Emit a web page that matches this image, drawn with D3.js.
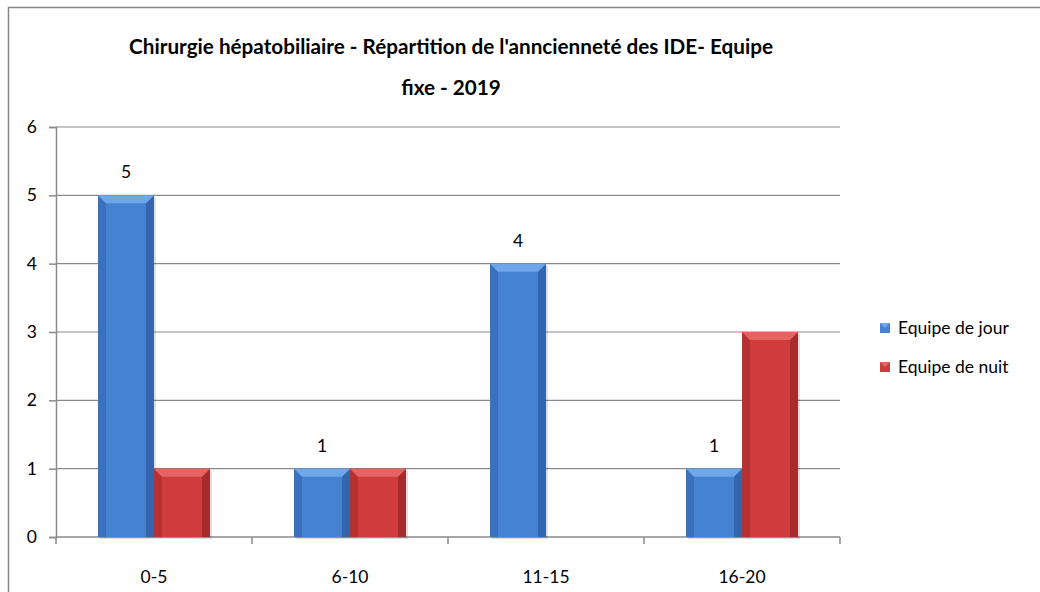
<!DOCTYPE html>
<html><head><meta charset="utf-8">
<script src="https://cdn.jsdelivr.net/npm/d3@7"></script>
<style>body{margin:0;background:#fff}svg{display:block}</style>
</head><body>
<svg id="c" width="1040" height="592"></svg>
<script>
const categories = ["0-5", "6-10", "11-15", "16-20"];
const jour = [5, 1, 4, 1];
const nuit = [1, 1, 0, 3];
const seriesNames = ["Equipe de jour", "Equipe de nuit"];
const yTicks = [0, 1, 2, 3, 4, 5, 6];
const titleLines = ["Chirurgie hépatobiliaire - Répartition de l'anncienneté des IDE- Equipe", "fixe - 2019"];

const FONT = "Lato, 'Open Sans', sans-serif";
const FS = 17.5;
const svg = d3.select("#c");
svg.append("rect").attr("x", 8.5).attr("y", 7.5).attr("width", 1100).attr("height", 700)
  .attr("fill", "#fff").attr("stroke", "#868686").attr("stroke-width", 1.5);

const L = 56, R = 840, T = 127, B = 537;
const x = d3.scaleBand().domain(categories).range([L, R]).paddingInner(0.4286).paddingOuter(0.2143);
const xb = d3.scaleBand().domain(categories).range([L, R]).padding(0);
const xs = d3.scaleBand().domain(seriesNames).range([0, x.bandwidth()]);
const y = d3.scaleLinear().domain([0, 6]).range([B, T]);

// gridlines
svg.append("g").selectAll("line").data(yTicks.filter(d => d > 0)).join("line")
  .attr("x1", L).attr("x2", R).attr("y1", d => y(d)).attr("y2", d => y(d))
  .attr("stroke", "#8a8a8a").attr("stroke-width", 1.2);

// y axis
const ya = svg.append("g").attr("transform", `translate(${L},0)`)
  .call(d3.axisLeft(y).tickValues(yTicks).tickSize(7).tickPadding(12).tickFormat(d3.format("d")));
ya.select(".domain").attr("stroke", "#8a8a8a").attr("stroke-width", 1.5);
ya.selectAll(".tick line").attr("stroke", "#8a8a8a").attr("stroke-width", 1.5);
ya.selectAll("text").attr("font-family", FONT).attr("font-size", FS).attr("fill", "#000");

// x axis
const xa = svg.append("g").attr("transform", `translate(0,${B})`);
xa.append("line").attr("x1", L).attr("x2", R).attr("stroke", "#8a8a8a").attr("stroke-width", 1.5);
xa.selectAll(".tk").data(categories.map(c => xb(c)).concat([R])).join("line").attr("class", "tk")
  .attr("x1", d => d).attr("x2", d => d).attr("y1", 0).attr("y2", 7).attr("stroke", "#8a8a8a").attr("stroke-width", 1.5);
xa.selectAll("text").data(categories).join("text")
  .attr("x", d => xb(d) + xb.bandwidth() / 2).attr("y", 46).attr("text-anchor", "middle")
  .attr("font-family", FONT).attr("font-size", FS).attr("fill", "#000").text(d => d);

const pal = {
  "Equipe de jour": {face: "#4682d2", top: "#6ea6ea", side: "#3466ad"},
  "Equipe de nuit": {face: "#d03c3c", top: "#e46464", side: "#a52c2c"}
};

function bar(g, x0, y0, w, h, c) {
  if (h <= 0) return;
  const bv = Math.min(8, h / 2);
  g.append("rect").attr("x", x0 + 2).attr("y", y0 + 2).attr("width", w).attr("height", h).attr("fill", "rgba(0,0,0,0.12)");
  g.append("rect").attr("x", x0).attr("y", y0).attr("width", w).attr("height", h).attr("fill", c.face);
  g.append("polygon").attr("points", `${x0},${y0} ${x0 + bv},${y0 + bv} ${x0 + bv},${y0 + h} ${x0},${y0 + h}`).attr("fill", c.side).attr("opacity", 0.6);
  g.append("polygon").attr("points", `${x0 + w},${y0} ${x0 + w - bv},${y0 + bv} ${x0 + w - bv},${y0 + h} ${x0 + w},${y0 + h}`).attr("fill", c.side);
  g.append("polygon").attr("points", `${x0},${y0} ${x0 + w},${y0} ${x0 + w - bv},${y0 + bv} ${x0 + bv},${y0 + bv}`).attr("fill", c.top);
}

const bars = svg.append("g");
const data = [jour, nuit];
categories.forEach((cat, i) => {
  seriesNames.forEach((s, j) => {
    const v = data[j][i];
    bar(bars, x(cat) + xs(s), y(v), xs.bandwidth(), y(0) - y(v), pal[s]);
  });
});

// data labels (jour only)
svg.append("g").selectAll("text").data(jour).join("text")
  .attr("x", (d, i) => x(categories[i]) + xs(seriesNames[0]) + xs.bandwidth() / 2)
  .attr("y", d => y(d) - 17).attr("text-anchor", "middle")
  .attr("font-family", FONT).attr("font-size", FS).attr("fill", "#000").text(d => d);

// title
svg.append("g").selectAll("text").data(titleLines).join("text")
  .attr("x", 451).attr("y", (d, i) => 54 + i * 41).attr("text-anchor", "middle")
  .attr("font-family", FONT).attr("font-weight", "bold").attr("font-size", 20.7).attr("fill", "#000").text(d => d);

// legend
const lg = svg.append("g");
seriesNames.forEach((s, i) => {
  const yy = 328 + i * 39;
  const c = pal[s];
  lg.append("rect").attr("x", 880).attr("y", yy - 5).attr("width", 10).attr("height", 10).attr("fill", c.face);
  lg.append("polygon").attr("points", `${880},${yy - 5} ${890},${yy - 5} ${885},${yy}`).attr("fill", c.top);
  lg.append("text").attr("x", 898).attr("y", yy + 6).attr("font-family", FONT).attr("font-size", FS).attr("fill", "#000").text(s);
});
</script>
</body></html>
